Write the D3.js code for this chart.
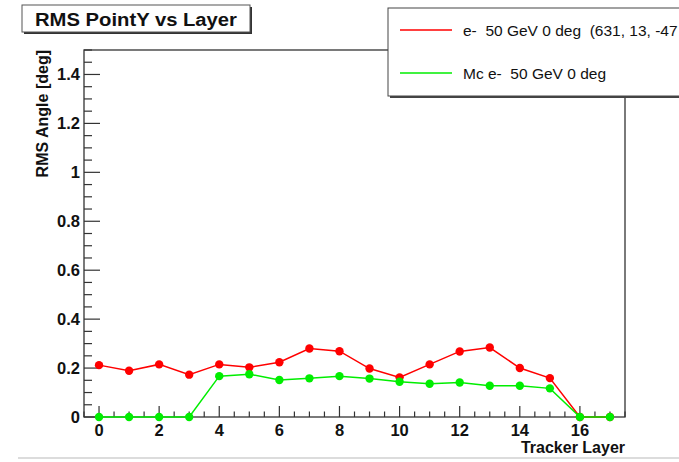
<!DOCTYPE html>
<html><head><meta charset="utf-8">
<script src="https://cdn.jsdelivr.net/npm/d3@7"></script>
<style>body{margin:0;background:#fff}svg{display:block}text{white-space:pre}</style>
</head><body>
<svg id="c" width="679" height="462"></svg>
<script>
const layers = [0,1,2,3,4,5,6,7,8,9,10,11,12,13,14,15,16,17];
const redValues = [0.212,0.189,0.215,0.173,0.215,0.203,0.224,0.280,0.269,0.198,0.162,0.215,0.268,0.284,0.200,0.159,0,0];
const greenValues = [0,0,0,0,0.167,0.175,0.151,0.158,0.167,0.157,0.144,0.136,0.141,0.128,0.128,0.117,0,0];
const xTicks = [0,2,4,6,8,10,12,14,16];
const yTicks = [0,0.2,0.4,0.6,0.8,1,1.2,1.4];
const seriesNames = ["e-  50 GeV 0 deg  (631, 13, -47", "Mc e-  50 GeV 0 deg"];
const seriesColors = ["#ff0000", "#00ee00"];

const svg = d3.select("#c");
const L=84, R=625, T=50, B=417;
const x = d3.scaleLinear().domain([-0.5,17.5]).range([L,R]);
const y = d3.scaleLinear().domain([0,1.5]).range([B,T]);
const font = "'Liberation Sans', Arial, Helvetica, sans-serif";

// bottom gray line
svg.append("line").attr("x1",18).attr("x2",679).attr("y1",458).attr("y2",458).attr("stroke","#d0d0d0").attr("stroke-width",1.5);

// frame
svg.append("rect").attr("x",L).attr("y",T).attr("width",R-L).attr("height",B-T)
  .attr("fill","none").attr("stroke","#333").attr("stroke-width",1.3);

// y ticks
const yMinor = d3.range(0,1.5001,0.05);
svg.append("g").selectAll("line").data(yMinor).join("line")
  .attr("x1",L).attr("x2",d=>Math.abs(d/0.2-Math.round(d/0.2))<1e-6? L+16 : L+8)
  .attr("y1",d=>y(d)).attr("y2",d=>y(d)).attr("stroke","#333").attr("stroke-width",1.2);
svg.append("g").selectAll("text").data(yTicks).join("text")
  .attr("x",80).attr("y",d=>y(d)).attr("dy","0.36em").attr("text-anchor","end")
  .attr("font-family",font).attr("font-weight","bold").attr("font-size",16.5).attr("fill","#111")
  .text(d=>d3.format("~g")(d));

// x ticks
const xMinor = d3.range(-0.5,17.5001,0.5);
svg.append("g").selectAll("line").data(xMinor).join("line")
  .attr("x1",d=>x(d)).attr("x2",d=>x(d))
  .attr("y1",B).attr("y2",d=>(d>=0 && d%2===0)? B-11 : B-5.5)
  .attr("stroke","#333").attr("stroke-width",1.2);
svg.append("g").selectAll("text").data(xTicks).join("text")
  .attr("x",d=>x(d)).attr("y",436).attr("text-anchor","middle")
  .attr("font-family",font).attr("font-weight","bold").attr("font-size",16.5).attr("fill","#111")
  .text(d=>d);

// axis titles
svg.append("text").attr("x",R).attr("y",453).attr("text-anchor","end")
  .attr("font-family",font).attr("font-weight","bold").attr("font-size",16).attr("fill","#111")
  .text("Tracker Layer");
svg.append("text").attr("transform",`translate(48,${T}) rotate(-90)`).attr("text-anchor","end")
  .attr("font-family",font).attr("font-weight","bold").attr("font-size",16).attr("fill","#111")
  .text("RMS Angle [deg]");

// series
const line = d3.line().x((d,i)=>x(layers[i])).y(d=>y(d));
[redValues, greenValues].forEach((vals,k)=>{
  const g = svg.append("g");
  g.append("path").datum(vals).attr("d",line).attr("fill","none")
    .attr("stroke",seriesColors[k]).attr("stroke-width",1.5);
  g.selectAll("circle").data(vals).join("circle")
    .attr("cx",(d,i)=>x(layers[i])).attr("cy",d=>y(d)).attr("r",4.2).attr("fill",seriesColors[k]);
});

// title box
svg.append("rect").attr("x",24).attr("y",7).attr("width",228).attr("height",27).attr("fill","#333");
svg.append("rect").attr("x",22).attr("y",5).attr("width",228).attr("height",27).attr("fill","#fff")
  .attr("stroke","#555").attr("stroke-width",1);
svg.append("text").attr("x",35).attr("y",25.5).attr("font-family",font).attr("font-weight","bold")
  .attr("font-size",18).attr("textLength",202).attr("lengthAdjust","spacingAndGlyphs").attr("fill","#111")
  .text("RMS PointY vs Layer");

// legend
svg.append("rect").attr("x",390).attr("y",10).attr("width",320).attr("height",88).attr("fill","#444");
svg.append("rect").attr("x",388).attr("y",8).attr("width",320).attr("height",88).attr("fill","#fff")
  .attr("stroke","#444").attr("stroke-width",1);
seriesNames.forEach((n,k)=>{
  const yy = 30 + k*43;
  svg.append("line").attr("x1",400).attr("x2",452).attr("y1",yy).attr("y2",yy)
    .attr("stroke",seriesColors[k]).attr("stroke-width",1.5);
  svg.append("text").attr("x",463).attr("y",yy+5.5).attr("font-family",font)
    .attr("font-size",15.5).attr("fill","#111").attr("xml:space","preserve").text(n);
});
</script>
</body></html>
